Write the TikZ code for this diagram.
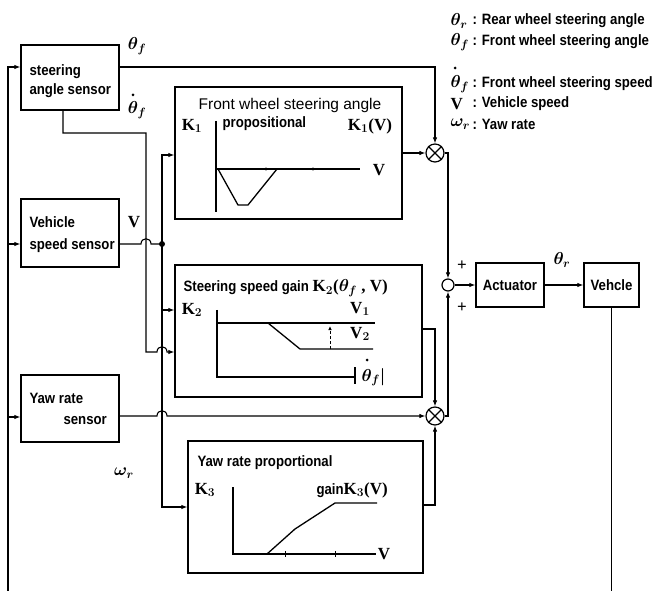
\documentclass[tikz,border=0pt]{standalone}
\usepackage{fontspec}
\setmainfont{Liberation Serif}
\newfontfamily\labfam{Liberation Sans}[FakeStretch=0.88]
\newfontfamily\ttlfam{Liberation Sans}
\usetikzlibrary{arrows.meta,calc}
\newcommand\labf{\labfam\bfseries\fontsize{15}{16}\selectfont}
\newcommand\serf{\bfseries\fontsize{17}{18}\selectfont\boldmath}
\begin{document}
\begin{tikzpicture}[x=1pt,y=-1pt,
  line width=1.1pt,
  box/.style={draw,rectangle,inner sep=0pt,line width=1.3pt},
  mult/.style={draw,circle,inner sep=0pt,minimum size=18pt,line width=1.2pt},
  summ/.style={draw,circle,inner sep=0pt,minimum size=12pt,line width=1.2pt},
  arr/.style={-{Latex[length=6pt,width=4.5pt]}},
  txt/.style={inner sep=0pt,anchor=west,font=\labf},
  sym/.style={inner sep=0pt,font=\serf},
  curve/.style={line width=1.3pt},
  jdot/.style={circle,fill,inner sep=0pt,minimum size=6pt}]
\useasboundingbox (0,0) rectangle (665,591);

% ---------- boxes ----------
\node[box,minimum width=98pt,minimum height=65pt] (sas) at (70,77.5) {};
\node[box,minimum width=98pt,minimum height=68pt] (vss) at (70,233) {};
\node[box,minimum width=98pt,minimum height=67pt] (yrs) at (70,408.5) {};
\node[box,minimum width=227pt,minimum height=132pt] (fw) at (288.5,153) {};
\node[box,minimum width=247pt,minimum height=132pt] (ssg) at (298.5,331) {};
\node[box,minimum width=235pt,minimum height=132pt] (yrp) at (305.5,507) {};
\node[box,minimum width=68pt,minimum height=44pt] (act) at (510,285) {};
\node[box,minimum width=55pt,minimum height=44pt] (veh) at (611.5,285) {};
\node[mult] (m1) at (435,153) {};
\node[mult] (m2) at (435,416) {};
\node[summ] (sum) at (448,285) {};
\draw[line width=1.2pt] (m1.north west) -- (m1.south east) (m1.north east) -- (m1.south west);
\draw[line width=1.2pt] (m2.north west) -- (m2.south east) (m2.north east) -- (m2.south west);

% ---------- box texts ----------
\node[txt] (t1) at (29,72) {steering};
\node[txt] (t2) at (29,91) {angle sensor};
\node[txt] (t3) at (29,222) {Vehicle};
\node[txt] (t4) at (29,246) {speed sensor};
\node[txt] (t5) at (29,398) {Yaw rate};
\node[txt] (t6) at (63,421) {sensor};
\node[txt,anchor=center] (t7) at (act) {Actuator};
\node[txt,anchor=center] (t8) at (veh) {Vehcle};

% ---------- signal labels ----------
\node[sym] (l1) at (137,46) {$\theta_{f}$};
\node[sym] (l2) at (137,110) {$\theta_{f}$};
\fill (133,95) circle (1.5pt);
\node[sym] (l3) at (134,222) {V};
\node[sym] (l4) at (124,473) {$\omega_{r}$};
\node[sym] (l5) at (562,260) {$\theta_{r}$};
\node[sym] (p1) at (462,266) {+};
\node[sym] (p2) at (462,308) {+};

% ---------- legend ----------
\node[sym,anchor=west] (g1) at (450,21) {$\theta_{r}$};
\node[txt] (h1) at (472,21) {: Rear wheel steering angle};
\node[sym,anchor=west] (g2) at (450,42) {$\theta_{f}$};
\node[txt] (h2) at (472,42) {: Front wheel steering angle};
\node[sym,anchor=west] (g3) at (450,84) {$\theta_{f}$};
\fill (455,68) circle (1.5pt);
\node[txt] (h3) at (472,84) {: Front wheel steering speed};
\node[sym,anchor=west] (g4) at (450,104) {V};
\node[txt] (h4) at (472,104) {: Vehicle speed};
\node[sym,anchor=west] (g5) at (450,124) {$\omega_{r}$};
\node[txt] (h5) at (472,124) {: Yaw rate};

% ---------- front wheel box content ----------
\node[inner sep=0pt,font=\ttlfam\fontsize{15.5}{16}\selectfont] (f1) at (290,105) {Front wheel steering angle};
\node[sym] (f2) at (192,126) {K$_1$};
\node[txt] (f3) at (222,124) {propositional};
\node[sym] (f4) at (370,126) {K$_1$(V)};
\draw[curve] (216,121) -- (216,212);
\draw[curve] (216,169) -- (360,169);
\node[sym] (f5) at (379,170) {V};
\draw[curve] (218,169) -- (238,205) -- (248,205) -- (277,169);
\fill (266,169) circle (1.6pt) (313,169) circle (1.6pt);

% ---------- steering speed gain box content ----------
\node[inner sep=0pt,anchor=west] (s1) at (183,288) {{\labf Steering speed gain }{\serf K$_2$($\theta_{f}$ , V)}};
\node[sym] (s2) at (192,310) {K$_2$};
\node[sym] (s3) at (360,309) {V$_1$};
\node[sym] (s4) at (360,334) {V$_2$};
\draw[curve] (217,310) -- (217,377) -- (354,377);
\draw[curve] (355,367) -- (355,384);
\node[sym,anchor=west] (s5) at (361,377) {$\theta_{f}|$};
\fill (367,360) circle (1.5pt);
\draw[curve] (217,323) -- (375,323);
\draw[curve] (268,323) -- (300,349) -- (373,349);
\draw[densely dashed,line width=0.9pt,-{Latex[length=4pt,width=3.5pt]}] (330,349) -- (330,326);

% ---------- yaw rate proportional box content ----------
\node[txt] (y1) at (197,463) {Yaw rate proportional};
\node[sym] (y2) at (205,490) {K$_3$};
\node[inner sep=0pt,anchor=west] (y3) at (316,490) {{\labf gain}{\serf K$_3$(V)}};
\draw[curve] (233,487) -- (233,554) -- (376,554);
\node[sym] (y4) at (384,554) {V};
\draw[curve] (267,554) -- (295,529) -- (335,503) -- (377,503);
\draw[line width=1pt] (285,551) -- (285,557) (335,551) -- (335,557);

% ---------- connectors ----------
% feedback
\draw (veh.south) -- (611.5,591);
\draw[arr] (8,591) -- (8,67) -- (sas.west |- 0,67);
\draw[arr] (8,244) -- (vss.west |- 0,244);
\draw[arr] (8,417) -- (yrs.west |- 0,417);
% steering angle -> m1
\draw[arr] (sas.east |- 0,67) -| (m1.north);
% steering speed -> ssg
\draw[arr] (sas.south -| 63,0) -- (63,133) -- (146,133) -- (146,352) -- (157,352)
  .. controls (157,345) and (167,345) .. (167,352) -- (ssg.west |- 0,352);
% vehicle speed
\node[jdot] (vj) at (162,244) {};
\draw (vss.east |- 0,244) -- (141,244) .. controls (141,237) and (151,237) .. (151,244) -- (vj.center);
\draw[arr] (vj.center) -- (162,155) -- (fw.west |- 0,155);
\draw[arr] (vj.center) -- (162,507) -- (yrp.west |- 0,507);
\draw[arr] (162,310) -- (ssg.west |- 0,310);
% yaw rate -> m2
\draw[arr] (yrs.east |- 0,416) -- (157,416) .. controls (157,409) and (167,409) .. (167,416) -- (m2.west);
% gains -> multipliers
\draw[arr] (fw.east) -- (m1.west);
\draw[arr] (ssg.east |- 0,329) -| (m2.north);
\draw[arr] (yrp.east |- 0,505) -| (m2.south);
% multipliers -> sum
\draw[arr] (m1.east) -| (sum.north);
\draw[arr] (m2.east) -| (sum.south);
\draw[arr] (sum.east) -- (act.west);
\draw[arr] (act.east) -- (veh.west);
\end{tikzpicture}
\end{document}
